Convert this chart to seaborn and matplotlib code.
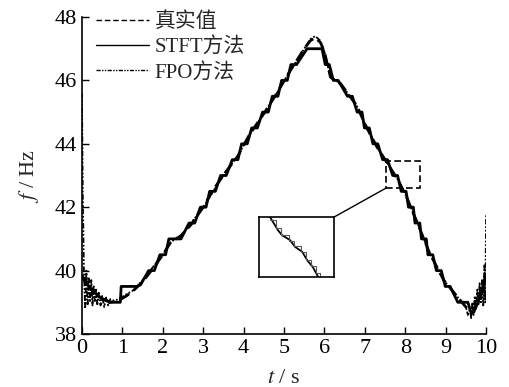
import matplotlib
matplotlib.use("Agg")
import matplotlib.pyplot as plt
from matplotlib.patches import Rectangle, ConnectionPatch
import seaborn as sns

# 真实值
true_t = [0.0, 0.2, 0.45, 0.7, 0.9, 1.1, 1.3, 1.5, 1.75, 2.0, 2.2, 2.45, 2.7, 3.0,
          3.25, 3.55, 3.85, 4.15, 4.5, 4.8, 5.15, 5.5, 5.65, 5.77, 5.9, 6.0, 6.15,
          6.4, 6.8, 7.05, 7.3, 7.5, 7.82, 8.04, 8.3, 8.6, 8.95, 9.35, 9.5, 9.65,
          9.8, 10.0]
true_f = [39.85, 39.45, 39.15, 39.0, 39.05, 39.2, 39.4, 39.65, 40.05, 40.5, 40.9,
          41.1, 41.45, 42.0, 42.55, 43.1, 43.6, 44.3, 44.95, 45.55, 46.3, 47.0,
          47.25, 47.35, 47.2, 46.9, 46.1, 45.9, 45.2, 44.5, 43.9, 43.5, 42.86,
          42.3, 41.5, 40.56, 39.7, 39.08, 38.85, 38.66, 39.05, 39.87]

# STFT方法 (plateaus of the staircase, vertices)
stft_t = [0.0, 0.2, 0.45, 0.7, 0.95, 0.97, 1.35, 1.45, 1.65, 1.79, 1.93, 2.07,
          2.15, 2.45, 2.65, 2.79, 2.93, 3.07, 3.16, 3.3, 3.43, 3.57, 3.72, 3.86,
          3.95, 4.09, 4.2, 4.34, 4.47, 4.61, 4.71, 4.85, 4.94, 5.08, 5.17, 5.31,
          5.57, 5.94, 6.02, 6.12, 6.22, 6.34, 6.57, 6.69, 6.81, 6.93, 6.99, 7.11,
          7.2, 7.32, 7.44, 7.56, 7.69, 7.81, 7.9, 8.02, 8.08, 8.2, 8.24, 8.36,
          8.4, 8.52, 8.56, 8.68, 8.77, 8.89, 8.99, 9.11, 9.3, 9.55, 9.62, 9.7,
          9.8, 9.93, 10.0]
stft_f = [39.8, 39.45, 39.15, 39.0, 39.0, 39.5, 39.5, 39.55, 40.0, 40.0, 40.5,
          40.5, 41.0, 41.0, 41.5, 41.5, 42.0, 42.0, 42.5, 42.5, 43.0, 43.0, 43.5,
          43.5, 44.0, 44.0, 44.5, 44.5, 45.0, 45.0, 45.5, 45.5, 46.0, 46.0, 46.5,
          46.5, 47.0, 47.0, 46.5, 46.5, 46.0, 46.0, 45.5, 45.5, 45.0, 45.0, 44.5,
          44.5, 44.0, 44.0, 43.5, 43.5, 43.0, 43.0, 42.5, 42.5, 42.0, 42.0, 41.5,
          41.5, 41.0, 41.0, 40.5, 40.5, 40.0, 40.0, 39.5, 39.5, 39.0, 39.0, 38.7,
          38.7, 39.0, 39.5, 39.85]

# FPO方法
fpo_t = [0.0, 0.02, 0.05, 0.08, 0.11, 0.14, 0.17, 0.2, 0.23, 0.26, 0.29, 0.32,
         0.35, 0.38, 0.42, 0.46, 0.5, 0.55, 0.6, 0.65, 0.7, 0.8, 0.9, 1.1, 1.3,
         1.5, 1.75, 2.0, 2.2, 2.45, 2.7, 3.0, 3.25, 3.55, 3.85, 4.15, 4.5, 4.8,
         5.15, 5.5, 5.65, 5.77, 5.9, 6.0, 6.15, 6.4, 6.8, 7.05, 7.3, 7.5, 7.82,
         8.04, 8.3, 8.6, 8.95, 9.35, 9.5, 9.55, 9.6, 9.63, 9.66, 9.69, 9.72, 9.75,
         9.78, 9.81, 9.84, 9.87, 9.9, 9.93, 9.96, 9.98, 10.0]
fpo_f = [45.6, 42.5, 39.9, 38.8, 40.0, 38.9, 39.8, 39.0, 39.7, 38.9, 39.5, 39.0,
         39.4, 38.9, 39.3, 38.9, 39.2, 38.85, 39.15, 38.9, 39.1, 39.05, 39.1,
         39.25, 39.4, 39.7, 40.1, 40.5, 40.9, 41.1, 41.5, 42.0, 42.5, 43.1, 43.6,
         44.3, 44.95, 45.55, 46.3, 47.0, 47.3, 47.4, 47.25, 46.9, 46.1, 45.9,
         45.2, 44.5, 43.9, 43.5, 42.86, 42.3, 41.5, 40.56, 39.7, 39.08, 38.85,
         38.6, 38.8, 38.5, 39.0, 38.6, 39.2, 38.8, 39.4, 38.9, 39.6, 39.0, 39.7,
         38.9, 40.2, 39.0, 41.8]

# 局部放大图中的曲线
inset_t = [7.645, 7.735, 7.78, 7.87, 7.93, 8.01, 8.065, 8.13, 8.19]
inset_f = [43.46, 43.27, 43.20, 43.13, 43.03, 42.96, 42.84, 42.74, 42.60]
inset_stft_t = [7.64, 7.71, 7.77, 7.86, 7.92, 7.99, 8.05, 8.11, 8.16, 8.21]
inset_stft_f = [43.42, 43.30, 43.20, 43.12, 43.04, 42.96, 42.85, 42.76, 42.66, 42.60]

x_ticks = [0, 1, 2, 3, 4, 5, 6, 7, 8, 9, 10]
y_ticks = [38, 40, 42, 44, 46, 48]

sns.set_style("ticks")
plt.rcParams['font.family'] = ['Liberation Serif', 'Noto Sans CJK SC']
plt.rcParams['mathtext.fontset'] = 'stix'

fig = plt.figure(figsize=(5.09, 3.87), dpi=100)
ax = fig.add_axes([0.161, 0.137, 0.794, 0.819])

sns.lineplot(x=true_t, y=true_f, ax=ax, color='k', lw=2.0, linestyle=(0, (4, 2)),
             label='真实值', legend=False)
sns.lineplot(x=stft_t, y=stft_f, ax=ax, color='k', lw=2.0, sort=False,
             label='STFT方法', legend=False)
sns.lineplot(x=fpo_t, y=fpo_f, ax=ax, color='k', lw=1.3, sort=False,
             linestyle=(0, (3, 1, 1, 1, 1, 1)), label='FPO方法', legend=False)

ax.set_xlim(0, 10)
ax.set_ylim(38, 48)
ax.set_xticks(x_ticks)
ax.set_yticks(y_ticks)
ax.tick_params(direction='in', labelsize=16, length=5, width=1, colors='k')
sns.despine(ax=ax)
for s in ['left', 'bottom']:
    ax.spines[s].set_linewidth(1.2)
    ax.spines[s].set_color('k')
ax.set_xlabel('$t$ / s', fontsize=16, labelpad=8)
ax.set_ylabel('$f$ / Hz', fontsize=16, labelpad=10)

leg = ax.legend(loc='upper left', bbox_to_anchor=(0.035, 1.015), frameon=False,
                fontsize=15, handlelength=2.55, handletextpad=0.25, labelspacing=0.25,
                borderpad=0, borderaxespad=0)
for h in leg.get_lines():
    h.set_linewidth(1.0)

# 局部放大
rect = Rectangle((7.52, 42.6), 0.85, 0.86, fill=False, ec='k', lw=1.2, ls=(0, (4, 2)))
ax.add_patch(rect)
axins = ax.inset_axes([0.438, 0.18, 0.186, 0.189])
sns.lineplot(x=inset_t, y=inset_f, ax=axins, color='k', lw=1.3, legend=False)
sns.lineplot(x=inset_stft_t, y=inset_stft_f, ax=axins, color='0.35', lw=0.8,
             drawstyle='steps-post', legend=False)
axins.set_xlim(7.52, 8.37)
axins.set_ylim(42.6, 43.46)
axins.set_xticks([])
axins.set_yticks([])
axins.set_xlabel('')
axins.set_ylabel('')
for s in axins.spines.values():
    s.set_linewidth(1.2)
    s.set_color('k')
con = ConnectionPatch(xyA=(1, 1), coordsA=axins.transAxes, xyB=(7.52, 42.6),
                      coordsB=ax.transData, color='k', lw=1)
fig.add_artist(con)

fig.savefig('out.png', dpi=100)
